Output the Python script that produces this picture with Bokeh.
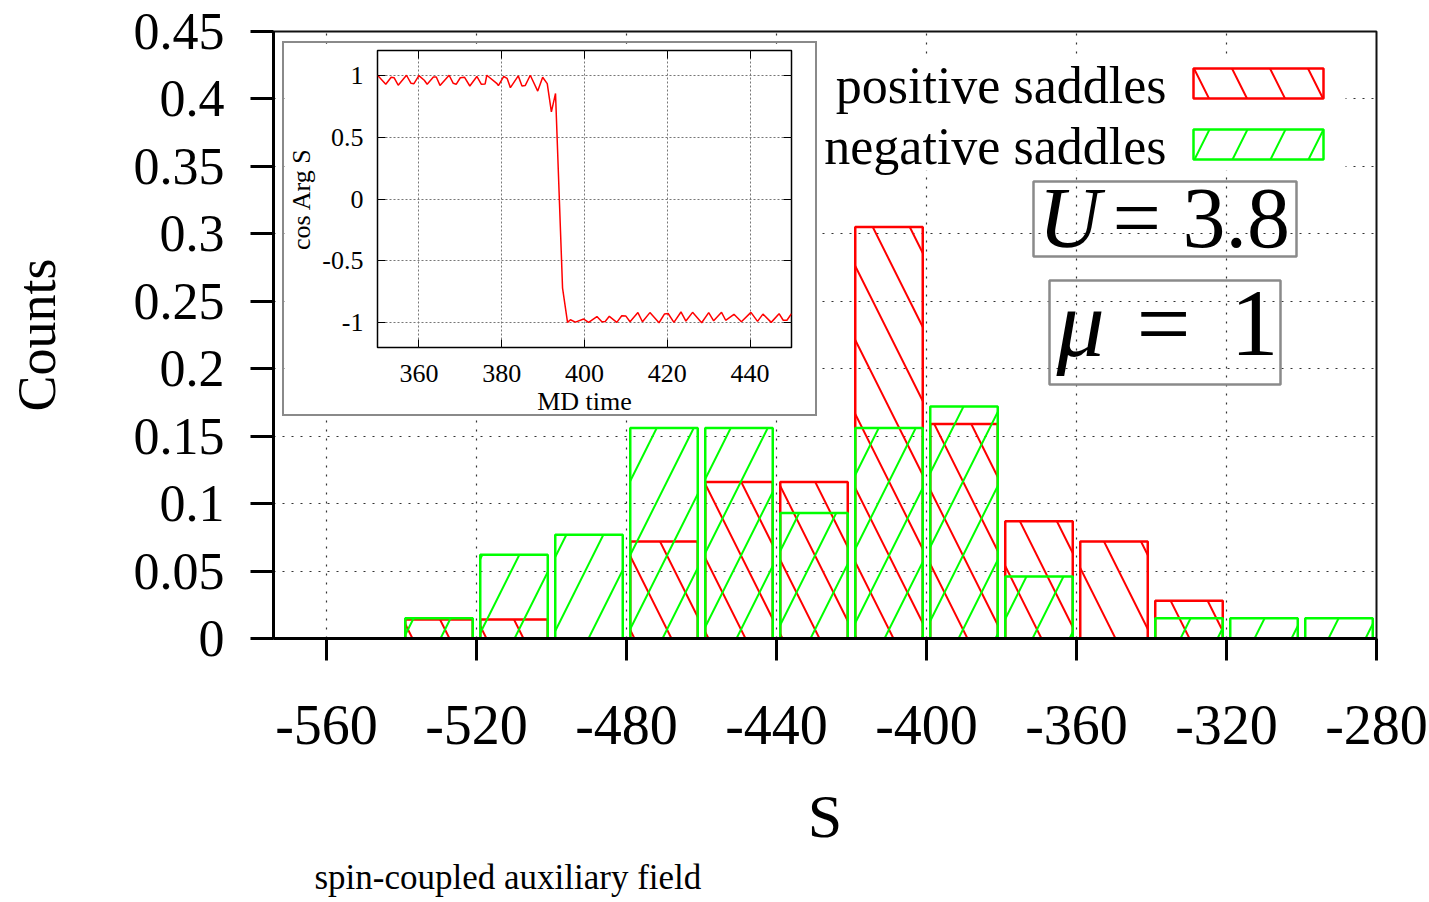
from bokeh.plotting import figure
from bokeh.models import (ColumnDataSource, FixedTicker, CustomJSTickFormatter, Label,
                          BoxAnnotation, LinearAxis, Range1d, Title, CustomLabelingPolicy)
from bokeh.embed import file_html
from bokeh.resources import INLINE

# ---------------- data ----------------
bin_centers = [-530, -510, -490, -470, -450, -430, -410, -390, -370, -350, -330, -310, -290]
positive_saddles = [0.014, 0.014, 0.0, 0.072, 0.116, 0.116, 0.305, 0.159, 0.087, 0.072, 0.028, 0.0, 0.0]
negative_saddles = [0.015, 0.062, 0.077, 0.156, 0.156, 0.093, 0.156, 0.172, 0.046, 0.0, 0.015, 0.015, 0.015]
bar_width = 18
x_ticks = [-560, -520, -480, -440, -400, -360, -320, -280]
y_ticks = [0, 0.05, 0.1, 0.15, 0.2, 0.25, 0.3, 0.35, 0.4, 0.45]

md_time = [350, 352, 353.3, 354, 355, 357, 358.1, 358.8, 360, 361.3, 362, 363.5, 364.2, 365.1,
           367.3, 368.3, 369, 370, 371, 372.3, 374, 375.1, 376, 376.4, 378.8, 379.2, 380.5,
           381.3, 382.1, 384, 384.9, 385.7, 386.9, 388.7, 389.9, 391, 392, 393, 394.7, 395.9,
           396.6, 397.8, 399.8, 401, 403, 404.2, 405, 406, 407.8, 409, 410, 411, 412.9, 414,
           415.8, 418, 419.3, 420.2, 421.6, 423.3, 424.5, 426.1, 428.3, 430, 431.2, 433.1,
           434.1, 436.1, 437.9, 440.2, 441.8, 443.1, 445.1, 447, 448, 448.9, 450]
cos_arg_s = [1.0, 0.927, 0.984, 0.98, 0.92, 1.0, 0.935, 0.932, 0.997, 0.96, 0.927, 0.986, 0.986, 0.918,
             1.0, 0.935, 0.927, 0.98, 0.984, 0.913, 0.99, 0.927, 0.93, 1.0, 0.935, 0.916, 0.99,
             0.975, 0.9, 0.995, 0.913, 0.918, 1.0, 0.872, 0.984, 0.932, 0.704, 0.853, -0.72, -0.997,
             -0.976, -0.995, -0.97, -0.997, -0.95, -0.992, -0.99, -0.948, -0.997, -0.943, -0.946, -0.992,
             -0.918, -0.992, -0.918, -1.0, -0.93, -0.925, -0.997, -0.913, -0.986, -0.916, -1.0,
             -0.918, -0.984, -0.916, -0.98, -0.932, -0.992, -0.916, -0.989, -0.93, -0.997, -0.927,
             -0.98, -0.98, -0.927]
inset_x_ticks = [360, 380, 400, 420, 440]
inset_y_ticks = [-1, -0.5, 0, 0.5, 1]

series_names = ["positive saddles", "negative saddles"]
U_value = "3.8"
mu_value = "1"

FONT = "Liberation Serif"
RED = "#ff0000"
GREEN = "#00ff00"
BOXGRAY = "#8a8a8a"
HATCH = 74

# ---------------- main figure geometry ----------------
W, H = 1429, 902
FL, FR, FT, FB = 273, 1376, 31, 638
X_END = -280
PX_PER_X = 3.75
X_START = X_END - (FR - FL) / PX_PER_X
Y_END = 0.45
PX_PER_Y = (FB - FT) / Y_END
BASE_FIX = 0.34  # label baseline correction (fraction of font size)


def dx(px):
    return X_START + (px - FL) / PX_PER_X


def dy(py):
    return (FB - py) / PX_PER_Y


def base_y(py, fs):
    return dy(py - BASE_FIX * fs)


p = figure(width=W, height=H, x_range=Range1d(X_START, X_END), y_range=Range1d(0, Y_END),
           output_backend="svg", toolbar_location=None,
           min_border_left=FL, min_border_right=W - FR, min_border_top=FT, min_border_bottom=H - FB)
p.background_fill_color = "white"
p.border_fill_color = "white"
p.outline_line_color = "#111111"
p.outline_line_width = 2

# axes
p.xaxis.ticker = FixedTicker(ticks=x_ticks)
p.yaxis.ticker = FixedTicker(ticks=y_ticks)
p.xaxis.formatter = CustomJSTickFormatter(code="return String(tick)")
p.yaxis.formatter = CustomJSTickFormatter(code="return String(Math.round(tick*100)/100)")
for ax in (p.xaxis[0], p.yaxis[0]):
    ax.axis_line_width = 3
    ax.axis_line_color = "black"
    ax.major_tick_line_width = 3
    ax.major_tick_line_color = "black"
    ax.major_tick_in = 0
    ax.minor_tick_line_color = None
    ax.major_label_text_font = FONT
    ax.axis_label_text_font = FONT
    ax.axis_label_text_font_style = "normal"
    ax.major_label_text_color = "black"
    ax.axis_label_text_color = "black"
p.xaxis.major_tick_out = 22
p.yaxis.major_tick_out = 23
p.xaxis.major_label_text_font_size = "56px"
p.yaxis.major_label_text_font_size = "52px"
p.xaxis.major_label_standoff = 45
p.yaxis.major_label_standoff = 26
p.xaxis.axis_label = "S"
p.yaxis.axis_label = "Counts"
p.xaxis.axis_label_text_font_size = "62px"
p.yaxis.axis_label_text_font_size = "54px"
p.xaxis.axis_label_standoff = 35
p.yaxis.axis_label_standoff = 64

p.xgrid.ticker = FixedTicker(ticks=x_ticks)
p.ygrid.ticker = FixedTicker(ticks=y_ticks)
for g in (p.xgrid[0], p.ygrid[0]):
    g.grid_line_color = "#333333"
    g.grid_line_dash = "2 7"
    g.grid_line_width = 1.2

# caption under the axis title
p.add_layout(Title(text="spin-coupled auxiliary field", align="left", offset=41,
                   text_font=FONT, text_font_size="35px", text_font_style="normal",
                   text_color="black", standoff=7), "below")


# bars
def bar_source(values):
    xs = [c for c, v in zip(bin_centers, values) if v > 0]
    vs = [v for v in values if v > 0]
    return ColumnDataSource(dict(left=[c - bar_width / 2 for c in xs],
                                 right=[c + bar_width / 2 for c in xs],
                                 top=vs, bottom=[0] * len(vs)))


p.quad(left="left", right="right", top="top", bottom="bottom", source=bar_source(positive_saddles),
       fill_alpha=0, line_color=RED, line_width=2.5,
       hatch_pattern="\\", hatch_color=RED, hatch_scale=HATCH, hatch_weight=2)
p.quad(left="left", right="right", top="top", bottom="bottom", source=bar_source(negative_saddles),
       fill_alpha=0, line_color=GREEN, line_width=2.5,
       hatch_pattern="/", hatch_color=GREEN, hatch_scale=HATCH, hatch_weight=2)

# legend (gnuplot style: text then sample box)
p.add_layout(BoxAnnotation(left=dx(815), right=dx(1345), top=dy(58), bottom=dy(170),
                           fill_color="white", fill_alpha=1, line_color=None))
for i, (name, col, pat) in enumerate(zip(series_names, [RED, GREEN], ["\\", "/"])):
    off = i * 61
    p.add_layout(Label(x=dx(1166), y=base_y(103 + off, 52), text=name, text_align="right",
                       text_baseline="alphabetic", text_font=FONT, text_font_size="52px",
                       text_color="black"))
    p.add_layout(BoxAnnotation(left=dx(1193), right=dx(1323), top=dy(68 + off), bottom=dy(98 + off),
                               fill_alpha=0, line_color=col, line_alpha=1, line_width=2.5,
                               hatch_pattern=pat, hatch_color=col, hatch_alpha=1,
                               hatch_scale=76, hatch_weight=2))

# parameter boxes
p.add_layout(BoxAnnotation(left=dx(1033), right=dx(1296), top=dy(181), bottom=dy(256),
                           fill_alpha=0, line_color=BOXGRAY, line_alpha=1, line_width=2.5))
p.add_layout(Label(x=dx(1038), y=base_y(247, 86), text="U", text_font=FONT, text_font_style="italic",
                   text_font_size="86px", text_baseline="alphabetic", text_color="black"))
p.add_layout(Label(x=dx(1112), y=base_y(247, 86), text="= " + U_value, text_font=FONT,
                   text_font_size="86px", text_baseline="alphabetic", text_color="black"))

p.add_layout(BoxAnnotation(left=dx(1049), right=dx(1280), top=dy(280), bottom=dy(384),
                           fill_alpha=0, line_color=BOXGRAY, line_alpha=1, line_width=2.5))
p.add_layout(Label(x=dx(1056), y=base_y(356, 96), text="μ", text_font=FONT, text_font_style="italic",
                   text_font_size="96px", text_baseline="alphabetic", text_color="black"))
p.add_layout(Label(x=dx(1136), y=base_y(356, 96), text="=", text_font=FONT,
                   text_font_size="96px", text_baseline="alphabetic", text_color="black"))
p.add_layout(Label(x=dx(1230), y=base_y(356, 96), text=mu_value, text_font=FONT,
                   text_font_size="96px", text_baseline="alphabetic", text_color="black"))

# ---------------- inset ----------------
IL, IT, IW, IH = 284, 43, 531, 371
inset = figure(width=IW, height=IH, x_range=Range1d(350, 450), y_range=Range1d(-1.2, 1.2),
               output_backend="svg", toolbar_location=None,
               min_border_left=93, min_border_right=28, min_border_top=7, min_border_bottom=70,
               styles={"position": "absolute", "left": f"{IL - 2}px", "top": f"{IT - 2}px",
                       "border": f"2px solid {BOXGRAY}", "box-sizing": "content-box",
                       "z-index": "5"})
inset.background_fill_color = "white"
inset.border_fill_color = "white"
inset.outline_line_color = "black"
inset.outline_line_width = 1.5
inset.xaxis.ticker = FixedTicker(ticks=inset_x_ticks)
inset.yaxis.ticker = FixedTicker(ticks=inset_y_ticks)
inset.yaxis.formatter = CustomJSTickFormatter(code="return String(tick)")
inset.xaxis.formatter = CustomJSTickFormatter(code="return String(tick)")
for ax in (inset.xaxis[0], inset.yaxis[0]):
    ax.axis_line_color = None
    ax.major_tick_in = 8
    ax.major_tick_out = 0
    ax.major_tick_line_color = "black"
    ax.major_tick_line_width = 1
    ax.minor_tick_line_color = None
    ax.major_label_text_font = FONT
    ax.major_label_text_font_size = "26px"
    ax.major_label_text_color = "black"
    ax.axis_label_text_font = FONT
    ax.axis_label_text_font_size = "26px"
    ax.axis_label_text_font_style = "normal"
    ax.axis_label_text_color = "black"
inset.xaxis.major_label_standoff = 17
inset.yaxis.major_label_standoff = 14
inset.xaxis.axis_label = "MD time"
inset.yaxis.axis_label = "cos Arg S"
inset.xaxis.axis_label_standoff = 2
inset.yaxis.axis_label_standoff = 3
for g in (inset.xgrid[0], inset.ygrid[0]):
    g.grid_line_color = "#777777"
    g.grid_line_dash = "2 2"
    g.grid_line_width = 1
inset.xgrid.ticker = FixedTicker(ticks=inset_x_ticks)
inset.ygrid.ticker = FixedTicker(ticks=inset_y_ticks)

# mirrored inward ticks (no labels)
for loc, tks in (("right", inset_y_ticks), ("above", inset_x_ticks)):
    ax = LinearAxis(ticker=FixedTicker(ticks=tks), axis_line_color=None, major_tick_in=8,
                    major_tick_out=0, major_tick_line_color="black", minor_tick_line_color=None,
                    major_label_text_font_size="2px", major_label_standoff=0,
                    major_label_policy=CustomLabelingPolicy(code="return new Set()"))
    inset.add_layout(ax, loc)

inset.line(md_time, cos_arg_s, line_color=RED, line_width=1.5)

open("out.html", "w").write(file_html([p, inset], INLINE))
